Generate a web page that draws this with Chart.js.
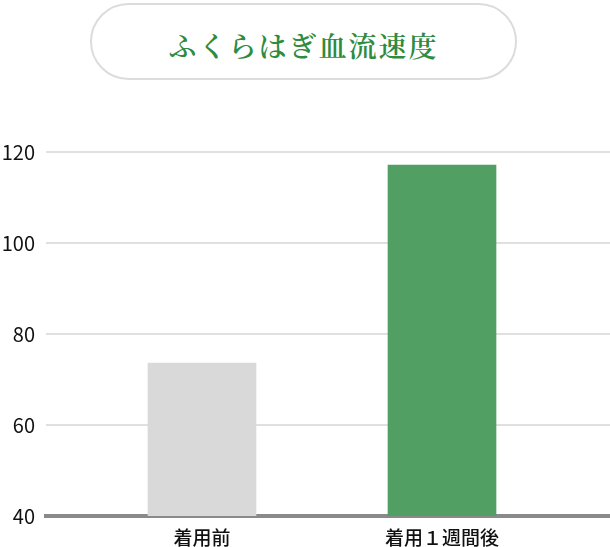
<!DOCTYPE html>
<html lang="ja">
<head>
<meta charset="utf-8">
<script src="https://cdn.jsdelivr.net/npm/chart.js@4/dist/chart.umd.min.js"></script>
<style>
  html, body { margin: 0; padding: 0; background: #fff; overflow: hidden; }
  #wrap { position: relative; width: 610px; height: 547px; overflow: hidden; }
  #title {
    position: absolute; left: 90px; top: 3px; width: 423px; height: 67px;
    border: 2px solid #dcdcdc; border-radius: 40px;
    display: flex; align-items: center; justify-content: center;
    font-family: "Noto Serif CJK JP", "Noto Sans CJK JP", serif;
    font-size: 28px; font-weight: 600; letter-spacing: 2px; color: #2e8b40; padding-top: 6px; box-sizing: content-box;
  }
  #box { position: absolute; left: 0; top: 0; width: 610px; height: 547px; }
</style>
</head>
<body>
<div id="wrap">
  <div id="title">ふくらはぎ血流速度</div>
  <div id="box"><canvas id="flowChart"></canvas></div>
</div>
<script>
const categories = ['着用前', '着用１週間後'];
const flowValues = [73.6, 117.1];
const barColors = ['#d9d9d9', '#529f64'];
const yTicks = [40, 60, 80, 100, 120];

const ctx = document.getElementById('flowChart').getContext('2d');
new Chart(ctx, {
  type: 'bar',
  data: {
    datasets: [{
      data: flowValues.map((v, i) => ({ x: i + 1, y: v })),
      backgroundColor: barColors,
      barThickness: 108
    }]
  },
  options: {
    responsive: true,
    maintainAspectRatio: false,
    animation: false,
    layout: { padding: { top: 152, left: 0, right: 0, bottom: 0 } },
    plugins: { legend: { display: false }, tooltip: { enabled: false } },
    scales: {
      x: {
        type: 'linear',
        min: 0.35,
        max: 2.7,
        offset: false,
        afterBuildTicks: s => { s.ticks = categories.map((c, i) => ({ value: i + 1 })); },
        afterFit: s => { s.paddingLeft = 0; s.paddingRight = 0; s.height = 31; },
        ticks: {
          callback: v => categories[v - 1],
          color: '#111',
          padding: 2,
          font: { family: '"Noto Sans CJK JP", sans-serif', size: 19, weight: 500 }
        },
        grid: { display: false, offset: false },
        border: { display: true, color: '#8a8a8a', width: 4 }
      },
      y: {
        min: yTicks[0],
        max: yTicks[yTicks.length - 1],
        afterBuildTicks: s => { s.ticks = yTicks.map(v => ({ value: v })); },
        afterFit: s => { s.width = 46; s.paddingBottom = 0; },
        ticks: {
          color: '#111',
          padding: 11,
          font: { family: '"Noto Sans CJK JP", sans-serif', size: 20 }
        },
        grid: { color: '#e0e0e0', lineWidth: 2, drawTicks: false },
        border: { display: false }
      }
    }
  }
});
</script>
</body>
</html>
